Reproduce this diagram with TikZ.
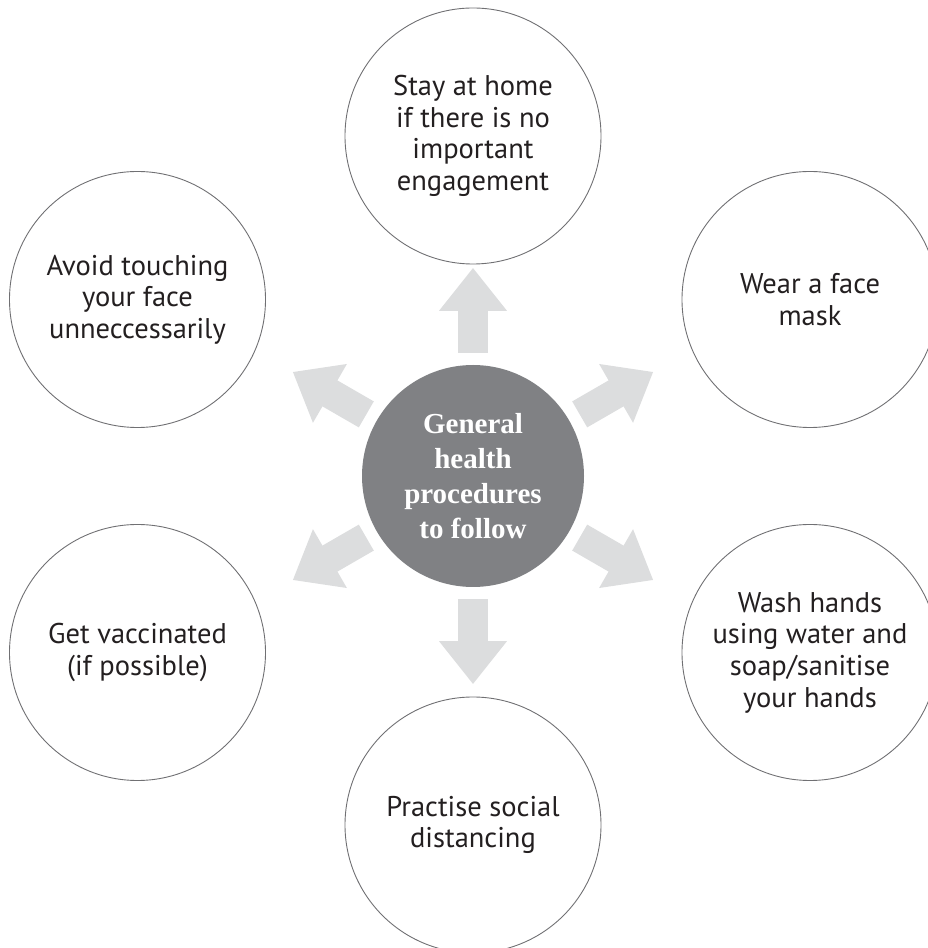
\documentclass[tikz,border=0pt]{standalone}
\usepackage{fontspec}
\setsansfont{PT Sans}
\newfontfamily\corefont{Liberation Serif}
\usepackage{tikz}
\usetikzlibrary{arrows.meta}
\definecolor{ringgray}{RGB}{112,112,115}
\definecolor{coregray}{RGB}{128,129,132}
\definecolor{pointgray}{RGB}{220,221,222}
\definecolor{inkblack}{RGB}{35,31,32}

\begin{document}
\begin{tikzpicture}[
  x=1pt, y=1pt,
  disc/.style={circle, draw=ringgray, line width=0.9pt, minimum size=256pt, inner sep=0pt,
    align=center, text=inkblack, font=\sffamily\fontsize{28.5}{31.7}\selectfont},
  core/.style={circle, fill=coregray, minimum size=222pt, inner sep=0pt,
    align=center, text=white, font=\corefont\bfseries\fontsize{29}{35}\selectfont},
  arrow/.style={pointgray, line width=30pt, -{Triangle[width=65pt,length=43pt]}}
]
\useasboundingbox (0,0) rectangle (928,948);

% Nodes
\node[core] (hub) at (473,472) {General\\health\\procedures\\to follow};
\node[disc] (home) at (473,812) {Stay at home\\if there is no\\important\\engagement};
\node[disc] (mask) at (810,648.5) {Wear a face\\mask};
\node[disc] (wash) at (810,295.5) {Wash hands\\using water and\\soap/sanitise\\your hands};
\node[disc] (distance) at (473,123) {Practise social\\distancing};
\node[disc] (vaccine) at (137.5,295.5) {Get vaccinated\\(if possible)};
\node[disc] (face) at (137.5,648.5) {Avoid touching\\your face\\unneccessarily};
% Pointers
\foreach \a in {90,30,150,210,270,330}
  \draw[arrow] ([shift={(\a:12)}]hub.\a) -- ([shift={(\a:97)}]hub.\a);
\end{tikzpicture}
\end{document}
